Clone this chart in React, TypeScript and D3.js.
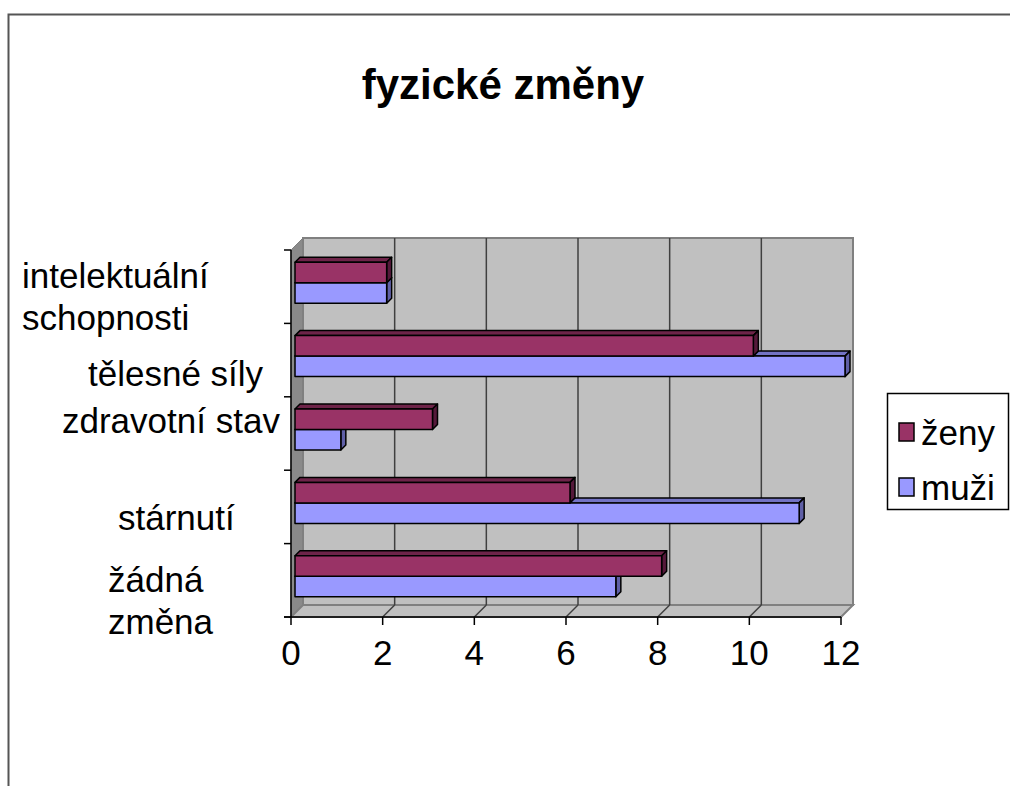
import React from "react";
import * as d3 from "d3";

const categories = ["intelektuální schopnosti", "tělesné síly", "zdravotní stav", "stárnutí", "žádná změna"];
const series = ["ženy", "muži"];
const zenyValues = [2, 10, 3, 6, 8];
const muziValues = [2, 12, 1, 11, 7];
const xTicks = [0, 2, 4, 6, 8, 10, 12];
const title = "fyzické změny";

const FONT = "'Liberation Sans', Arial, sans-serif";

export default function App() {
  const fx0 = 291, fx1 = 841, fy0 = 250, fy1 = 617;
  const D = 12; // wall depth
  const bOff = 4; // bar front offset
  const bDep = 5; // bar depth

  const x = d3.scaleLinear().domain([0, 12]).range([fx0, fx1]);
  const y = d3.scaleBand<string>().domain(categories).range([fy0, fy1]).padding(0);
  const ys = d3.scaleBand<string>().domain(series).range([0, y.bandwidth()]).paddingInner(0).paddingOuter(0.79);

  const colors: Record<string, { front: string; top: string; side: string }> = {
    "ženy": { front: "#993366", top: "#6e2449", side: "#55193a" },
    "muži": { front: "#9999FF", top: "#7373c4", side: "#5f5fa6" },
  };
  const valuesBy: Record<string, number[]> = { "ženy": zenyValues, "muži": muziValues };

  const bars: JSX.Element[] = [];
  categories.forEach((c, i) => {
    ["muži", "ženy"].forEach((s) => {
      const v = valuesBy[s][i];
      const xa = x(0) + bOff;
      const xb = x(v) + bOff;
      const ya = (y(c) as number) + (ys(s) as number) - bOff;
      const yb = ya + ys.bandwidth();
      const col = colors[s];
      bars.push(
        <g key={c + s} stroke="#000" strokeWidth={1.5} strokeLinejoin="round">
          <polygon points={`${xa},${ya} ${xa + bDep},${ya - bDep} ${xb + bDep},${ya - bDep} ${xb},${ya}`} fill={col.top} />
          <polygon points={`${xb},${ya} ${xb + bDep},${ya - bDep} ${xb + bDep},${yb - bDep} ${xb},${yb}`} fill={col.side} />
          <rect x={xa} y={ya} width={xb - xa} height={yb - ya} fill={col.front} />
        </g>
      );
    });
  });

  // category label layout (multi-line, left aligned); dy = first baseline relative to band centre
  const labelLayout = [
    { lines: ["intelektuální", "schopnosti"], x: 22, dy: 1 },
    { lines: ["tělesné síly"], x: 88, dy: 26 },
    { lines: ["zdravotní stav"], x: 62, dy: -1 },
    { lines: ["stárnutí"], x: 118, dy: 23 },
    { lines: ["žádná", "změna"], x: 108, dy: 12 },
  ];

  const boundaries = d3.range(categories.length + 1).map((k) => fy0 + k * y.step());

  return (
    <svg width={1010} height={786} style={{ position: "absolute", left: 0, top: 0 }} fontFamily={FONT}>
      <rect x={0} y={0} width={1010} height={786} fill="#fff" />
      {/* outer chart border */}
      <rect x={8.5} y={14.5} width={1100} height={900} fill="none" stroke="#555" strokeWidth={2} />

      <text x={503} y={99} textAnchor="middle" fontSize={42} fontWeight="bold" fill="#000">{title}</text>

      {/* walls */}
      <polygon points={`${fx0},${fy0} ${fx0 + D},${fy0 - D} ${fx0 + D},${fy1 - D} ${fx0},${fy1}`} fill="#8a8a8a" stroke="#808080" />
      <rect x={fx0 + D} y={fy0 - D} width={fx1 - fx0} height={fy1 - fy0} fill="#C0C0C0" stroke="#808080" strokeWidth={2} />
      <polygon points={`${fx0},${fy1} ${fx0 + D},${fy1 - D} ${fx1 + D},${fy1 - D} ${fx1},${fy1}`} fill="#C0C0C0" stroke="#808080" strokeWidth={2} />

      {/* gridlines */}
      {xTicks.slice(1, -1).map((t) => (
        <g key={"g" + t} stroke="#404040" strokeWidth={1.5} fill="none">
          <line x1={x(t) + D} x2={x(t) + D} y1={fy0 - D} y2={fy1 - D} />
          <line x1={x(t) + D} x2={x(t)} y1={fy1 - D} y2={fy1} />
        </g>
      ))}

      {bars}

      {/* axes */}
      <g stroke="#000" strokeWidth={1.5}>
        <line x1={fx0} x2={fx0} y1={fy0} y2={fy1} />
        <line x1={fx0 - 7} x2={fx1} y1={fy1} y2={fy1} />
        {boundaries.map((b, k) => (
          <line key={"yt" + k} x1={fx0 - 7} x2={fx0} y1={b} y2={b} />
        ))}
        {xTicks.map((t) => (
          <line key={"xt" + t} x1={x(t)} x2={x(t)} y1={fy1} y2={fy1 + 8} />
        ))}
      </g>

      {xTicks.map((t) => (
        <text key={"xl" + t} x={x(t)} y={665} textAnchor="middle" fontSize={35} fill="#000">{t}</text>
      ))}

      {categories.map((c, i) => {
        const L = labelLayout[i];
        const firstBaseline = (y(c) as number) + y.bandwidth() / 2 + L.dy;
        const lh = 42;
        return (
          <text key={"cl" + i} fontSize={35} fill="#000">
            {L.lines.map((ln, j) => (
              <tspan key={j} x={L.x} y={firstBaseline + j * lh}>{ln}</tspan>
            ))}
          </text>
        );
      })}

      {/* legend */}
      <rect x={887.5} y={393.5} width={121} height={116} fill="#fff" stroke="#000" strokeWidth={1.5} />
      {series.map((s, i) => (
        <g key={"lg" + s}>
          <rect x={899} y={423 + i * 55} width={15} height={18} fill={colors[s].front} stroke="#000" strokeWidth={1.5} />
          <text x={921} y={445 + i * 55} fontSize={35} fill="#000">{s}</text>
        </g>
      ))}
    </svg>
  );
}
